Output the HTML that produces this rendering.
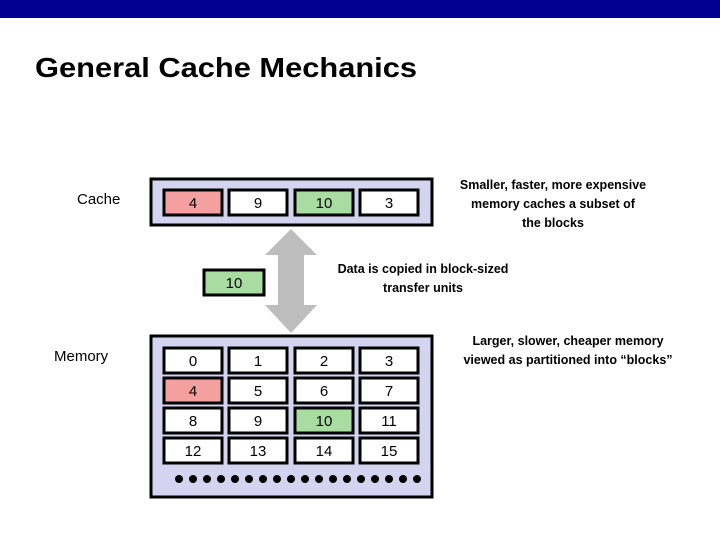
<!DOCTYPE html>
<html><head><meta charset="utf-8"><style>
html,body{margin:0;padding:0;background:#fff;}
svg{display:block;font-family:"Liberation Sans",sans-serif;}
</style></head><body>
<svg width="720" height="540" viewBox="0 0 720 540" xmlns="http://www.w3.org/2000/svg">
<rect x="0" y="0" width="720" height="18" fill="#000090"/>
<text x="35" y="77" font-size="28" font-weight="bold" textLength="382" lengthAdjust="spacingAndGlyphs">General Cache Mechanics</text>
<text x="77" y="204" font-size="15">Cache</text>
<text x="54" y="361" font-size="15">Memory</text>
<!-- cache -->
<rect x="151" y="179" width="281" height="46" fill="#d4d4f0" stroke="#000" stroke-width="3"/>
<g stroke="#000" stroke-width="3" font-size="15" text-anchor="middle">
<rect x="164" y="190" width="58" height="25" fill="#f5a0a0"/>
<rect x="229" y="190" width="58" height="25" fill="#fff"/>
<rect x="295" y="190" width="58" height="25" fill="#a8dca0"/>
<rect x="360" y="190" width="58" height="25" fill="#fff"/>
<rect x="204" y="270" width="60" height="25" fill="#a8dca0"/>
</g>
<g font-size="15" text-anchor="middle">
<text x="193" y="208">4</text><text x="258" y="208">9</text><text x="324" y="208">10</text><text x="389" y="208">3</text>
<text x="234" y="288">10</text>
</g>
<!-- arrow -->
<polygon points="291,229 317,255 304,255 304,305 317,305 291,333 265,305 278,305 278,255 265,255" fill="#bdbdbd"/>
<!-- memory -->
<rect x="151" y="336" width="281" height="161" fill="#d4d4f0" stroke="#000" stroke-width="3"/>
<g stroke="#000" stroke-width="3">
<rect x="164" y="348" width="58" height="25" fill="#fff"/><rect x="229" y="348" width="58" height="25" fill="#fff"/><rect x="295" y="348" width="58" height="25" fill="#fff"/><rect x="360" y="348" width="58" height="25" fill="#fff"/>
<rect x="164" y="378" width="58" height="25" fill="#f5a0a0"/><rect x="229" y="378" width="58" height="25" fill="#fff"/><rect x="295" y="378" width="58" height="25" fill="#fff"/><rect x="360" y="378" width="58" height="25" fill="#fff"/>
<rect x="164" y="408" width="58" height="25" fill="#fff"/><rect x="229" y="408" width="58" height="25" fill="#fff"/><rect x="295" y="408" width="58" height="25" fill="#a8dca0"/><rect x="360" y="408" width="58" height="25" fill="#fff"/>
<rect x="164" y="438" width="58" height="25" fill="#fff"/><rect x="229" y="438" width="58" height="25" fill="#fff"/><rect x="295" y="438" width="58" height="25" fill="#fff"/><rect x="360" y="438" width="58" height="25" fill="#fff"/>
</g>
<g font-size="15" text-anchor="middle">
<text x="193" y="366">0</text><text x="258" y="366">1</text><text x="324" y="366">2</text><text x="389" y="366">3</text>
<text x="193" y="396">4</text><text x="258" y="396">5</text><text x="324" y="396">6</text><text x="389" y="396">7</text>
<text x="193" y="426">8</text><text x="258" y="426">9</text><text x="324" y="426">10</text><text x="389" y="426">11</text>
<text x="193" y="456">12</text><text x="258" y="456">13</text><text x="324" y="456">14</text><text x="389" y="456">15</text>
</g>
<g fill="#000">
<circle cx="179" cy="479" r="4"/><circle cx="193" cy="479" r="4"/><circle cx="207" cy="479" r="4"/><circle cx="221" cy="479" r="4"/><circle cx="235" cy="479" r="4"/><circle cx="249" cy="479" r="4"/><circle cx="263" cy="479" r="4"/><circle cx="277" cy="479" r="4"/><circle cx="291" cy="479" r="4"/><circle cx="305" cy="479" r="4"/><circle cx="319" cy="479" r="4"/><circle cx="333" cy="479" r="4"/><circle cx="347" cy="479" r="4"/><circle cx="361" cy="479" r="4"/><circle cx="375" cy="479" r="4"/><circle cx="389" cy="479" r="4"/><circle cx="403" cy="479" r="4"/><circle cx="417" cy="479" r="4"/>
</g>
<g font-size="12.5" font-weight="bold" text-anchor="middle">
<text x="553" y="189">Smaller, faster, more expensive</text>
<text x="553" y="208">memory caches a  subset of</text>
<text x="553" y="227">the blocks</text>
<text x="423" y="273">Data is copied in block-sized</text>
<text x="423" y="292">transfer units</text>
<text x="568" y="345">Larger, slower, cheaper memory</text>
<text x="568" y="364">viewed as partitioned into “blocks”</text>
</g>
</svg>
</body></html>
